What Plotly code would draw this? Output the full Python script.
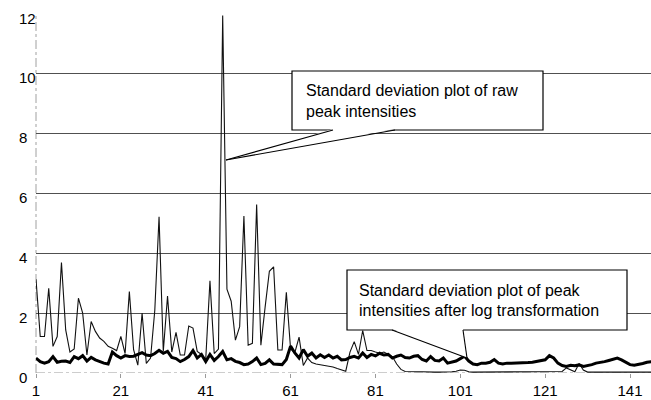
import plotly.graph_objects as go

# ---- data ----
raw_sd = [3.13, 1.22, 1.22, 2.83, 0.89, 1.22, 3.69, 1.44, 0.70, 0.80,
          2.50, 2.00, 0.60, 1.72, 1.39, 1.17, 1.06, 0.89, 0.83, 0.75,
          1.22, 0.65, 2.72, 0.78, 0.26, 2.00, 0.32, 0.50, 2.10, 5.22,
          0.72, 2.57, 0.70, 1.36, 0.60, 0.60, 1.57, 1.50, 0.72, 0.62,
          0.45, 3.08, 0.65, 0.80, 11.95, 2.80, 2.40, 1.10, 1.55, 5.25,
          0.93, 0.99, 5.63, 0.93, 2.20, 3.40, 3.55, 0.77, 0.77, 2.70,
          0.80, 0.68, 1.20, 0.25, 0.50, 0.35, 0.30, 0.28, 0.25, 0.22,
          0.20, 0.15, 0.10, 0.06, 0.70, 1.05, 0.62, 1.42, 0.75, 0.75,
          0.70, 0.66, 0.70, 0.62, 0.55, 0.30, 0.12, 0.05, 0.04, 0.04,
          0.04, 0.04, 0.03, 0.03, 0.03, 0.03, 0.03, 0.03, 0.04, 0.06,
          0.10, 0.09, 0.04, 0.03, 0.03, 0.03, 0.03, 0.03, 0.03, 0.03,
          0.03, 0.03, 0.03, 0.03, 0.03, 0.03, 0.03, 0.03, 0.03, 0.03,
          0.03, 0.03, 0.03, 0.03, 0.05, 0.17, 0.10, 0.04, 0.32, 0.10,
          0.03, 0.03, 0.03, 0.03, 0.03, 0.03, 0.03, 0.03, 0.03, 0.03,
          0.03, 0.03, 0.03, 0.03, 0.03, 0.03]

log_sd = [0.50, 0.38, 0.33, 0.38, 0.55, 0.36, 0.39, 0.40, 0.35, 0.55,
          0.48, 0.58, 0.40, 0.52, 0.44, 0.38, 0.33, 0.30, 0.70, 0.58,
          0.50, 0.58, 0.55, 0.56, 0.62, 0.68, 0.60, 0.58, 0.65, 0.76,
          0.66, 0.72, 0.52, 0.48, 0.38, 0.45, 0.55, 0.75, 0.50, 0.62,
          0.38, 0.62, 0.42, 0.55, 0.72, 0.44, 0.48, 0.39, 0.35, 0.28,
          0.30, 0.38, 0.50, 0.28, 0.32, 0.44, 0.30, 0.28, 0.28, 0.45,
          0.90, 0.67, 0.50, 0.78, 0.56, 0.67, 0.50, 0.61, 0.52, 0.60,
          0.50, 0.56, 0.44, 0.45, 0.52, 0.56, 0.50, 0.67, 0.52, 0.62,
          0.57, 0.66, 0.60, 0.62, 0.50, 0.56, 0.60, 0.52, 0.50, 0.56,
          0.58, 0.45, 0.40, 0.55, 0.42, 0.40, 0.50, 0.33, 0.36, 0.40,
          0.48, 0.56, 0.40, 0.30, 0.28, 0.33, 0.33, 0.36, 0.45, 0.33,
          0.30, 0.33, 0.33, 0.33, 0.35, 0.33, 0.35, 0.36, 0.38, 0.40,
          0.44, 0.58, 0.50, 0.33, 0.25, 0.22, 0.26, 0.24, 0.27, 0.22,
          0.24, 0.28, 0.33, 0.35, 0.38, 0.42, 0.45, 0.50, 0.44, 0.36,
          0.28, 0.26, 0.28, 0.32, 0.36, 0.38]

x_index = list(range(1, len(raw_sd) + 1))
x_tick_vals = [1, 21, 41, 61, 81, 101, 121, 141]
x_tick_text = ["1", "21", "41", "61", "81", "101", "121", "141"]
y_tick_vals = [0, 2, 4, 6, 8, 10, 12]
y_tick_text = ["0", "2", "4", "6", "8", "10", "12"]

label_raw = ["Standard deviation plot of raw", "peak intensities"]
label_log = ["Standard deviation plot of peak", "intensities after log transformation"]

# ---- layout geometry (pixels) ----
W, H = 651, 400
L, R, T, B = 36, 0, 14, 27
PW, PH = W - L - R, H - T - B
FONT = "Liberation Sans, Arial, Helvetica, sans-serif"


def px(x):
    return (x - L) / PW


def py(y):
    return (H - B - y) / PH


fig = go.Figure()
fig.add_trace(go.Scatter(x=x_index, y=raw_sd, mode="lines",
                         line=dict(color="#111111", width=1.1), showlegend=False))
fig.add_trace(go.Scatter(x=x_index, y=log_sd, mode="lines",
                         line=dict(color="#000000", width=3), showlegend=False))

shapes = []
annotations = []

# dashed light-grey axis lines (as in the scanned original)
shapes.append(dict(type="line", xref="paper", yref="y", x0=0, x1=1, y0=0, y1=0,
                   line=dict(color="#9a9a9a", width=1, dash="dashdot"), layer="below"))
shapes.append(dict(type="line", xref="paper", yref="paper", x0=0, x1=0, y0=0, y1=1,
                   line=dict(color="#a0a0a0", width=1, dash="dashdot"), layer="below"))

# left-aligned y tick labels, positioned on the y scale
for v, t in zip(y_tick_vals, y_tick_text):
    annotations.append(dict(xref="paper", yref="y", x=px(17), y=v, text=t,
                            showarrow=False, xanchor="left", yanchor="middle", yshift=-4,
                            font=dict(family=FONT, size=15, color="#000000")))


def callout(x0, y0, x1, y1, bl, br, tip, lines, tx, ty, dy):
    shapes.append(dict(type="rect", xref="paper", yref="paper",
                       x0=px(x0), x1=px(x1), y0=py(y0), y1=py(y1),
                       line=dict(color="#000000", width=1.2), fillcolor="white", layer="above"))
    path = "M {},{} L {},{} L {},{} Z".format(px(bl), py(y1 - 1), px(tip[0]), py(tip[1]), px(br), py(y1 - 1))
    shapes.append(dict(type="path", xref="paper", yref="paper", path=path,
                       line=dict(color="rgba(0,0,0,0)", width=0), fillcolor="white", layer="above"))
    for a, b in ((bl, tip), (br, tip)):
        shapes.append(dict(type="line", xref="paper", yref="paper",
                           x0=px(a), y0=py(y1), x1=px(b[0]), y1=py(b[1]),
                           line=dict(color="#000000", width=1.1), layer="above"))
    for k, t in enumerate(lines):
        annotations.append(dict(xref="paper", yref="paper", x=px(tx), y=py(ty + k * dy),
                                text=t, showarrow=False, xanchor="left", yanchor="middle",
                                font=dict(family=FONT, size=16, color="#000000")))


callout(292, 71, 543, 130, 333, 395, (226, 160), label_raw, 304, 90, 21)
callout(347, 270, 627, 330, 392, 463, (467, 358), label_log, 357, 290, 20)

fig.update_layout(
    width=W, height=H,
    margin=dict(l=L, r=R, t=T, b=B, pad=0),
    paper_bgcolor="white", plot_bgcolor="white",
    font=dict(family=FONT, size=15, color="#000000"),
    xaxis=dict(range=[1, 1 + (PW) / 4.243], tickmode="array", tickvals=x_tick_vals,
               ticktext=x_tick_text, showgrid=False, zeroline=False,
               showline=False,
               ticks="outside", ticklen=4, tickcolor="#9a9a9a",
               tickfont=dict(family=FONT, size=15)),
    yaxis=dict(range=[0, 12], tickmode="array", tickvals=y_tick_vals,
               showticklabels=False, showgrid=True, gridcolor="#505050", gridwidth=1,
               zeroline=False, showline=False, ticks=""),
    shapes=shapes, annotations=annotations,
)

fig.write_html("out.html", config={"displayModeBar": False},
               post_script="document.body.style.margin='0';document.body.style.padding='0';")
